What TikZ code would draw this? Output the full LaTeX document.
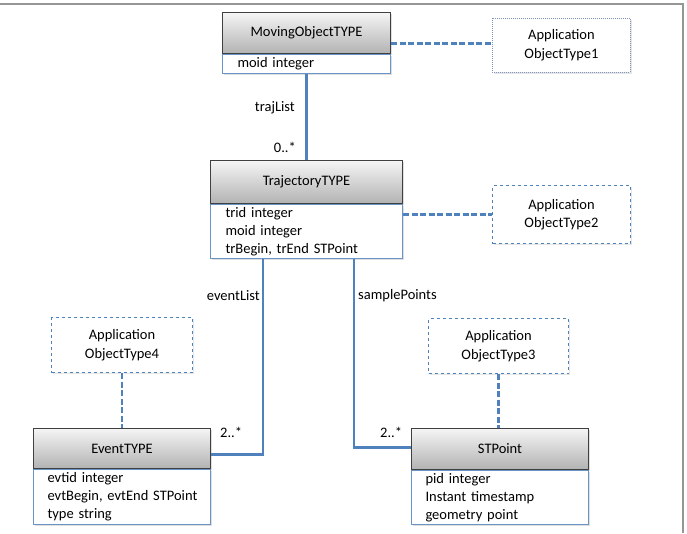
\documentclass[tikz,border=0pt]{standalone}
\usepackage{fontspec}
\setmainfont{Carlito}
\usetikzlibrary{shadows}
\definecolor{lnblue}{RGB}{79,129,189}
\definecolor{hdrline}{RGB}{64,64,64}
\definecolor{frame}{RGB}{150,150,150}
\definecolor{dotblue}{RGB}{130,150,190}
\tikzset{
  hdr/.style={draw=hdrline, line width=1pt, top color=black!4, bottom color=black!30,
    inner sep=0pt, anchor=north west, align=center,
    drop shadow={shadow xshift=1.5pt, shadow yshift=-1.5pt, opacity=0.25}},
  attrbox/.style={draw=lnblue!85, line width=1pt, fill=white, inner xsep=14pt, inner ysep=1pt,
    anchor=north, align=left,
    drop shadow={shadow xshift=1.5pt, shadow yshift=-1.5pt, opacity=0.25}},
  appbox/.style={draw=lnblue, line width=1pt, dashed, fill=white, align=center,
    anchor=north west, inner sep=0pt, minimum width=140pt, font=\fontsize{14.5}{18.5}\selectfont,
    drop shadow={shadow xshift=1.2pt, shadow yshift=-1.2pt, opacity=0.2}},
  conn/.style={draw=lnblue, line width=2.2pt},
  dconn/.style={draw=lnblue, line width=2.2pt, dash pattern=on 6pt off 2.5pt},
  lbl/.style={inner sep=0pt}
}
\begin{document}
\begin{tikzpicture}[x=1pt,y=-1pt, font=\fontsize{14.5}{18}\selectfont]
\useasboundingbox (0,0) rectangle (687,533);
% frame
\coordinate (f1) at (0,4);
\coordinate (f2) at (682.5,4);
\coordinate (f3) at (682.5,533);
\draw[frame, line width=2pt] (f1) -- (f2) -- (f3);

% MovingObjectTYPE
\node[hdr, minimum width=168pt, minimum height=41pt] (mo) at (222,12) {MovingObjectTYPE};
\node[attrbox, inner xsep=15pt, text width=138pt, minimum height=19pt] (moa) at (mo.south) {moid integer};

% TrajectoryTYPE
\node[hdr, minimum width=192pt, minimum height=43pt] (tr) at (210,160) {TrajectoryTYPE};
\node[attrbox, inner xsep=15pt, text width=162pt, minimum height=54pt] (tra) at (tr.south) {trid integer\\moid integer\\\mbox{trBegin, trEnd STPoint}};

% EventTYPE
\node[hdr, minimum width=177pt, minimum height=40pt] (ev) at (33,428) {EventTYPE};
\node[attrbox, text width=149pt, minimum height=55pt] (eva) at (ev.south) {evtid integer\\\mbox{evtBegin, evtEnd STPoint}\\type string};

% STPoint
\node[hdr, minimum width=177pt, minimum height=41pt] (st) at (411,428) {STPoint};
\node[attrbox, text width=149pt, minimum height=54pt] (sta) at (st.south) {pid integer\\Instant timestamp\\geometry point};

% Application boxes
\node[appbox, draw=dotblue, densely dotted, line width=0.9pt, minimum width=138pt, minimum height=54pt] (a1) at (492,18) {Application\\ObjectType1};
\node[appbox, minimum width=138pt, minimum height=58pt] (a2) at (492,185) {Application\\ObjectType2};
\node[appbox, minimum width=140pt, minimum height=55pt] (a3) at (428,318) {Application\\ObjectType3};
\node[appbox, minimum width=141pt, minimum height=55pt] (a4) at (51,317) {Application\\ObjectType4};

% connectors
\draw[conn] (moa.south) -- (tr.north);
\draw[conn] ([xshift=53pt]tra.south west) coordinate (e1) |- ([yshift=-6pt]ev.east);
\draw[conn] ([xshift=144pt]tra.south west) coordinate (s1) |- ([yshift=1.5pt]st.west);

\draw[dconn] ([yshift=-10.5pt]mo.east) coordinate (p1) -- (p1 -| a1.west);
\draw[dconn] (a2.west -| tra.east) -- (a2.west);
\draw[dconn] (a4.south) -- (ev.north);
\draw[dconn] (a3.south) -- (a3.south |- st.north);

% labels
\node[lbl, anchor=east] (l1) at (295,108) {trajList};
\node[lbl, anchor=east] (l2) at (296,147) {0..*};
\node[lbl, anchor=east] (l3) at (260,296) {eventList};
\node[lbl, anchor=west] (l4) at (358,296) {samplePoints};
\node[lbl, anchor=west] (l5) at (220,432) {2..*};
\node[lbl, anchor=west] (l6) at (380,432) {2..*};
\end{tikzpicture}
\end{document}
